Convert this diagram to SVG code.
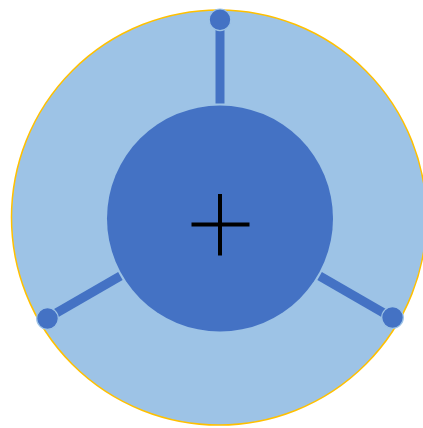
<svg xmlns="http://www.w3.org/2000/svg" width="423" height="428" viewBox="0 0 423 428">
  <style>
    .outer { fill: #9DC3E6; stroke: #FFC000; stroke-width: 1.5; }
    .hub { fill: #4472C4; }
    .spoke { stroke: #4472C4; stroke-width: 9; fill: none; }
    .dot { fill: #4472C4; stroke: #9DC3E6; stroke-width: 1.2; }
    .plus { stroke: #000000; stroke-width: 4; fill: none; }
  </style>
  <rect width="423" height="428" fill="#FFFFFF"/>
  <g id="outer-ring">
    <circle class="outer" cx="219" cy="217.5" r="207.5"/>
  </g>
  <g id="connectors">
    <line class="spoke" x1="220" y1="103.5" x2="220" y2="29.5"/>
    <line class="spoke" x1="120.4" y1="276" x2="56.3" y2="313"/>
    <line class="spoke" x1="319.6" y1="276" x2="383.7" y2="313"/>
  </g>
  <g id="hub">
    <circle class="hub" cx="220" cy="218.5" r="113"/>
  </g>
  <g id="plus">
    <line class="plus" x1="191.5" y1="224.5" x2="249.5" y2="224.5"/>
    <line class="plus" x1="220" y1="194" x2="220" y2="255.5"/>
  </g>
  <g id="dot-top">
    <circle class="dot" cx="220" cy="19.8" r="10.8"/>
  </g>
  <g id="dot-left">
    <circle class="dot" cx="47.5" cy="318.5" r="10.8"/>
  </g>
  <g id="dot-right">
    <circle class="dot" cx="392.5" cy="317.5" r="10.8"/>
  </g>
</svg>
